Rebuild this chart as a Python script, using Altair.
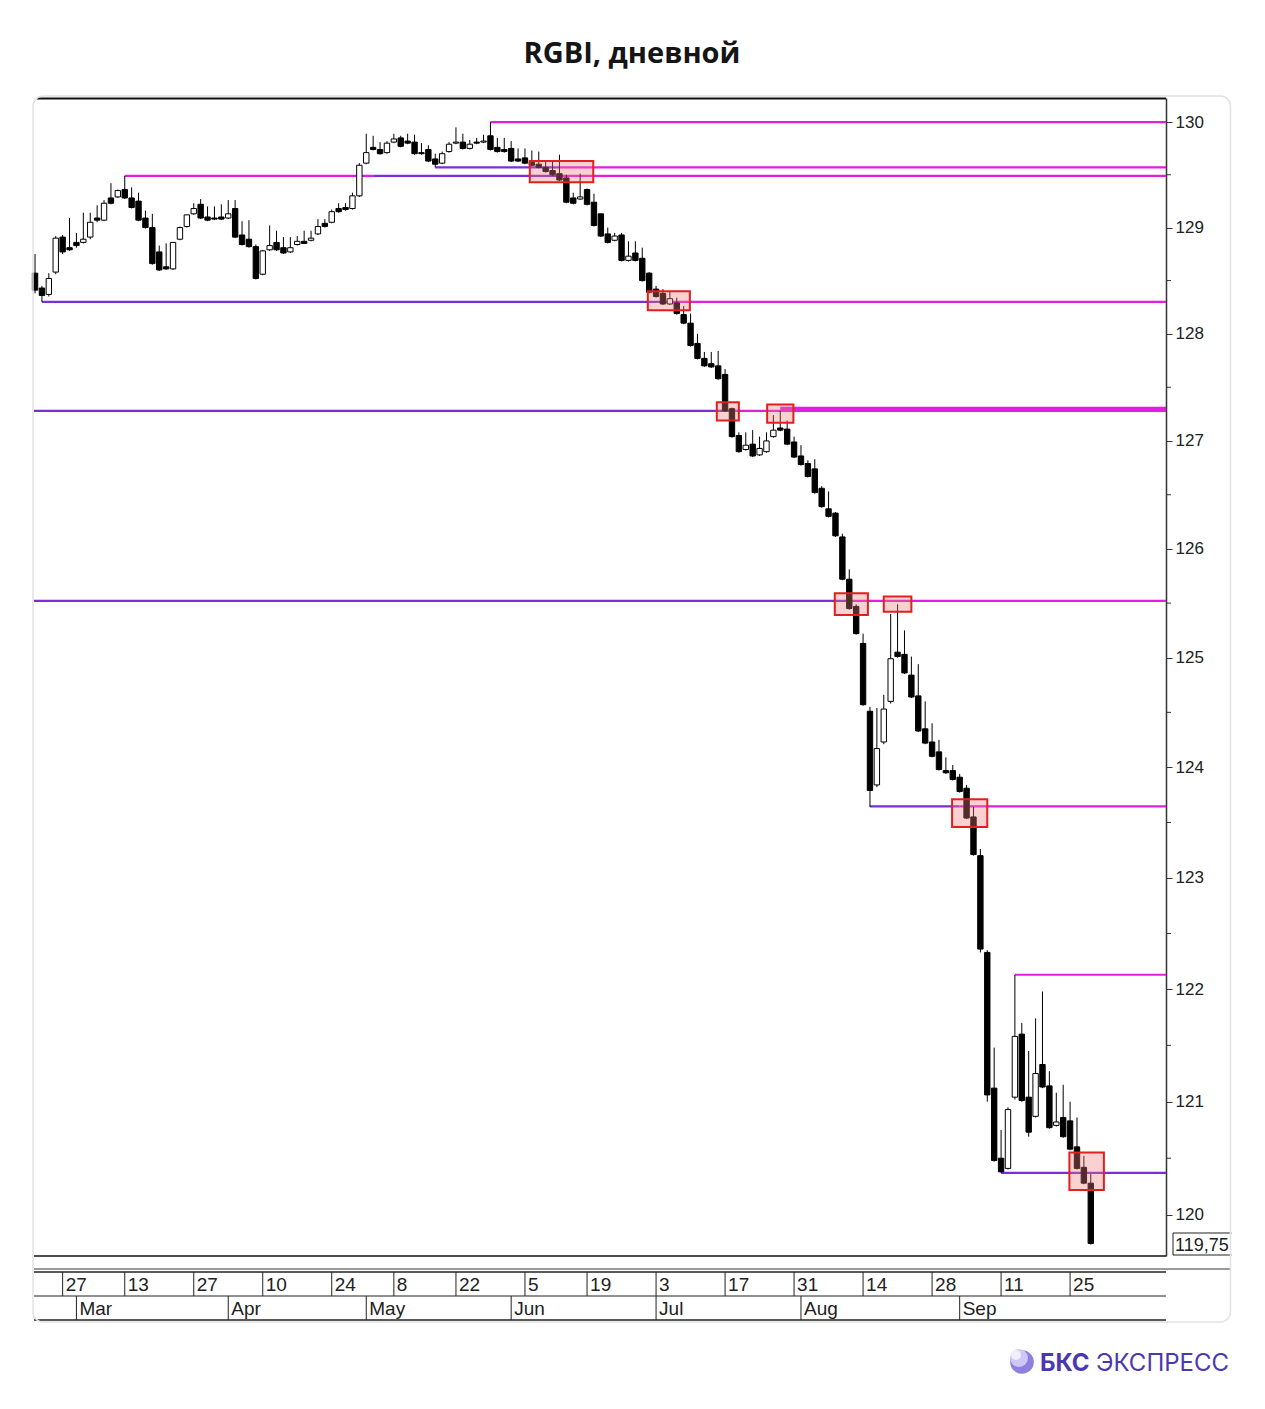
import altair as alt
import pandas as pd

TITLE = "RGBI, дневной"

# ---- trading calendar (MOEX 2023) ----
HOLIDAYS = ["2023-02-23", "2023-03-08", "2023-05-01", "2023-05-09", "2023-06-12"]
dates = pd.bdate_range("2023-02-20", "2023-09-28")
dates = dates[~dates.isin(pd.to_datetime(HOLIDAYS))]

# ---- daily candles ----
opens = [128.57,128.43,128.37,128.58,128.91,128.81,128.86,128.86,128.91,129.09,
 129.07,129.28,129.29,129.36,129.28,129.25,129.09,129.00,128.77,128.63,
 128.61,128.89,129.01,129.13,129.22,129.10,129.09,129.10,129.09,129.18,
 128.93,128.89,128.82,128.56,128.79,128.86,128.81,128.77,128.84,128.87,
 128.88,128.94,129.04,129.05,129.18,129.19,129.18,129.30,129.61,129.76,
 129.74,129.71,129.81,129.85,129.82,129.81,129.71,129.74,129.65,129.61,
 129.72,129.80,129.81,129.75,129.81,129.81,129.87,129.76,129.74,129.75,
 129.65,129.66,129.62,129.60,129.57,129.54,129.51,129.47,129.28,129.27,
 129.36,129.24,129.13,128.94,128.88,128.93,128.69,128.76,128.71,128.57,
 128.42,128.38,128.28,128.29,128.18,128.10,127.91,127.77,127.72,127.70,
 127.62,127.30,127.05,126.92,126.97,126.87,126.90,127.04,127.12,127.11,
 126.99,126.86,126.79,126.74,126.56,126.37,126.33,126.11,125.72,125.47,
 125.13,124.51,123.84,124.23,124.60,125.05,125.03,124.84,124.65,124.35,
 124.23,124.14,123.97,123.97,123.91,123.81,123.55,123.20,122.33,121.12,
 120.50,120.41,121.04,121.60,121.04,120.87,121.33,121.14,120.79,120.86,
 120.83,120.60,120.42,120.28]
closes = [128.41,128.36,128.52,128.90,128.77,128.79,128.83,128.89,129.05,129.07,
 129.23,129.23,129.35,129.28,129.19,129.07,129.00,128.66,128.60,128.61,
 128.86,129.00,129.12,129.18,129.09,129.07,129.08,129.08,129.13,128.91,
 128.84,128.82,128.52,128.78,128.83,128.79,128.76,128.81,128.87,128.85,
 128.90,129.01,129.01,129.15,129.15,129.17,129.30,129.59,129.71,129.74,
 129.70,129.80,129.84,129.77,129.80,129.70,129.70,129.63,129.60,129.70,
 129.79,129.81,129.75,129.79,129.80,129.82,129.74,129.72,129.72,129.63,
 129.63,129.61,129.59,129.57,129.53,129.50,129.45,129.24,129.23,129.29,
 129.22,129.02,128.92,128.86,128.92,128.69,128.73,128.69,128.50,128.39,
 128.35,128.28,128.33,128.19,128.10,127.89,127.77,127.70,127.69,127.58,
 127.28,127.04,126.90,126.96,126.86,126.93,127.00,127.10,127.10,126.97,
 126.85,126.78,126.67,126.52,126.39,126.30,126.12,125.72,125.45,125.22,
 124.57,123.79,124.17,124.53,124.99,125.01,124.86,124.64,124.33,124.22,
 124.10,123.98,123.95,123.89,123.78,123.54,123.21,122.36,121.06,120.48,
 120.38,120.93,121.58,121.01,120.73,121.25,121.13,120.77,120.82,120.69,
 120.58,120.41,120.28,119.75]
highs = [128.75,128.45,128.57,128.92,128.93,129.09,128.95,129.14,129.14,129.21,
 129.26,129.42,129.36,129.49,129.38,129.33,129.16,129.13,128.83,128.85,
 128.86,129.01,129.12,129.23,129.27,129.20,129.20,129.22,129.26,129.26,
 129.06,129.07,128.84,128.79,129.02,128.97,128.91,128.91,128.92,128.97,
 128.97,129.08,129.08,129.17,129.23,129.23,129.33,129.61,129.89,129.87,
 129.81,129.82,129.89,129.87,129.89,129.88,129.80,129.78,129.70,129.72,
 129.81,129.95,129.89,129.83,129.85,129.88,130.00,129.85,129.85,129.82,
 129.75,129.75,129.73,129.72,129.63,129.63,129.69,129.50,129.33,129.51,
 129.37,129.32,129.13,129.00,128.95,128.95,128.87,128.87,128.81,128.58,
 128.45,128.42,128.40,128.34,128.26,128.19,128.00,127.83,127.83,127.84,
 127.67,127.31,127.08,127.08,127.10,127.04,127.08,127.24,127.28,127.19,
 127.04,126.96,126.82,126.83,126.58,126.53,126.34,126.14,125.81,125.49,
 125.22,124.55,124.54,124.66,125.40,125.49,125.25,125.01,124.94,124.60,
 124.40,124.25,124.09,124.02,123.94,123.84,123.64,123.26,122.35,121.48,
 120.75,120.95,122.13,121.70,121.45,121.74,121.98,121.27,121.08,121.15,
 121.00,120.86,120.52,120.36]
lows = [128.38,128.30,128.35,128.56,128.75,128.78,128.81,128.85,128.89,129.05,
 129.06,129.22,129.28,129.27,129.18,129.06,128.99,128.65,128.59,128.60,
 128.60,128.88,129.00,129.12,129.08,129.06,129.07,129.07,129.08,128.90,
 128.83,128.81,128.51,128.55,128.78,128.78,128.75,128.76,128.83,128.85,
 128.87,128.93,129.00,129.04,129.14,129.16,129.17,129.29,129.60,129.73,
 129.69,129.70,129.80,129.76,129.79,129.69,129.69,129.62,129.57,129.60,
 129.71,129.79,129.74,129.74,129.79,129.80,129.73,129.71,129.71,129.62,
 129.62,129.60,129.58,129.56,129.52,129.49,129.44,129.23,129.22,129.26,
 129.21,129.01,128.91,128.85,128.87,128.68,128.68,128.68,128.49,128.38,
 128.34,128.27,128.27,128.18,128.09,127.88,127.76,127.69,127.68,127.57,
 127.27,127.03,126.89,126.91,126.85,126.86,126.89,127.03,127.09,126.96,
 126.84,126.77,126.66,126.51,126.38,126.29,126.11,125.71,125.44,125.21,
 124.56,123.64,123.82,124.21,124.58,125.00,124.85,124.63,124.32,124.21,
 124.09,123.97,123.94,123.88,123.77,123.53,123.20,122.33,121.00,120.47,
 120.37,120.40,121.02,121.00,120.69,120.86,121.12,120.76,120.78,120.68,
 120.57,120.40,120.27,119.74]

# ---- support / resistance segments (x in trading-day index, None = to the right edge) ----
line_price = [130.00, 129.49, 129.49, 129.49, 129.57, 129.57, 128.30, 128.30,
              127.28, 127.28, 127.30, 125.52, 125.52, 123.645, 123.645, 122.13, 120.37]
line_from = [66, 13, 49, 76, 58, 76, 1, 91, None, 101.5, 108, None, 118, 121, 134, 142, 140]
line_to = [None, 49, 76, None, 76, None, 91, None, 101.5, None, None, 118, None, 134, None, None, None]
line_role = ["res", "res", "sup", "res", "sup", "res", "sup", "res",
             "sup", "res", "res_bold", "sup", "res", "sup", "res", "res", "sup"]

# ---- highlighted zones ----
box_from = [71.7, 88.8, 98.8, 106.1, 115.9, 123.0, 132.9, 149.9]
box_to = [80.9, 94.9, 102.0, 109.9, 120.7, 127.0, 138.0, 154.9]
box_lo = [129.43, 128.22, 127.19, 127.17, 125.39, 125.42, 123.46, 120.22]
box_hi = [129.63, 128.40, 127.36, 127.34, 125.59, 125.56, 123.71, 120.55]

Y_TICKS = list(range(120, 131))
Y_MINOR = [v + 0.5 for v in range(120, 130)]
Y_DOMAIN = [119.64, 130.23]
X_DOMAIN = [-0.15, 163.9]

MAGENTA = "#E01FE0"
PURPLE = "#7A2ED6"
W, H = 1132, 1158
NARROW = "Liberation Sans Narrow, Arial Narrow, Liberation Sans, Arial, sans-serif"
SANS = "Liberation Sans, Arial, sans-serif"

# ---- frames ----
n = len(opens)
cdf = pd.DataFrame({"i": list(range(n)), "o": opens, "h": highs, "l": lows, "c": closes})
cdf["lo"] = cdf[["o", "c"]].min(axis=1)
cdf["hi"] = cdf[["o", "c"]].max(axis=1)
cdf["dir"] = ["up" if c >= o else "down" for o, c in zip(opens, closes)]
cdf["x1"] = cdf["i"] - 0.39
cdf["x2"] = cdf["i"] + 0.39

ldf = pd.DataFrame({
    "price": line_price,
    "x1": [X_DOMAIN[0] if v is None else v for v in line_from],
    "x2": [X_DOMAIN[1] if v is None else v for v in line_to],
    "role": line_role,
})
bdf = pd.DataFrame({"x1": box_from, "x2": box_to, "lo": box_lo, "hi": box_hi})

idx = {d: k for k, d in enumerate(dates)}
day_dates = [d for d in pd.date_range("2023-02-27", dates[-1], freq="14D") if d in idx]
ddf = pd.DataFrame({"i": [idx[d] for d in day_dates], "label": [str(d.day) for d in day_dates]})
firsts = pd.Series(dates).groupby([dates.year, dates.month]).min()
firsts = [d for d in firsts if d.month >= 3]
mdf = pd.DataFrame({"i": [idx[d] for d in firsts], "label": [d.strftime("%b") for d in firsts]})
minor_df = pd.DataFrame({"v": Y_MINOR})
one = pd.DataFrame({"k": [0]})
last_label = f"{closes[-1]:.2f}".replace(".", ",")

xs = alt.Scale(domain=X_DOMAIN, nice=False, zero=False)
ys = alt.Scale(type="log", domain=Y_DOMAIN, nice=False, zero=False)
yaxis = alt.Axis(orient="right", values=Y_TICKS, format="d", title=None, grid=False,
                 tickSize=6, tickColor="#333", domainColor="#333", domainWidth=1.5,
                 labelFont=SANS, labelFontSize=17, labelColor="#222", labelPadding=3)


def X(f):
    return alt.X(f, scale=xs, axis=None)


def Y(f):
    return alt.Y(f, scale=ys, axis=yaxis)


layers = []
# support / resistance lines
for role, col, sw in [("sup", PURPLE, 2.2), ("res", MAGENTA, 2.2), ("res_bold", MAGENTA, 4)]:
    layers.append(
        alt.Chart(ldf).transform_filter(alt.datum.role == role)
        .mark_rule(color=col, strokeWidth=sw)
        .encode(x=X("x1:Q"), x2="x2:Q", y=Y("price:Q"))
    )
# wicks
layers.append(alt.Chart(cdf).mark_rule(color="black", strokeWidth=1)
              .encode(x=X("i:Q"), y=Y("l:Q"), y2="h:Q"))
# bodies
layers.append(alt.Chart(cdf).transform_filter(alt.datum.dir == "down")
              .mark_rect(fill="black", stroke="black", strokeWidth=1)
              .encode(x=X("x1:Q"), x2="x2:Q", y=Y("lo:Q"), y2="hi:Q"))
layers.append(alt.Chart(cdf).transform_filter(alt.datum.dir == "up")
              .mark_rect(fill="white", stroke="black", strokeWidth=1)
              .encode(x=X("x1:Q"), x2="x2:Q", y=Y("lo:Q"), y2="hi:Q"))
# highlighted zones
layers.append(alt.Chart(bdf).mark_rect(fill="#F07C7C", fillOpacity=0.35, stroke="#E21F1F", strokeWidth=2)
              .encode(x=X("x1:Q"), x2="x2:Q", y=Y("lo:Q"), y2="hi:Q"))
# minor ticks on price axis
layers.append(alt.Chart(minor_df).mark_rule(color="#333", strokeWidth=1)
              .encode(x=alt.value(W), x2=alt.value(W + 5), y=Y("v:Q")))

# frame lines
def hline(y, x1, x2, color, sw):
    return alt.Chart(one).mark_rule(color=color, strokeWidth=sw).encode(
        x=alt.value(x1), x2=alt.value(x2), y=alt.value(y))

layers += [
    hline(0.5, 3, W, "#111", 2),
    hline(H, 0, W, "#111", 1.5),
    hline(1171, 0, 1196, "#9a9a9a", 2),
    hline(1174, 0, W, "#222", 1.5),
    hline(1198, 0, W, "#222", 1),
    hline(1222, 0, W, "#222", 1.5),
]
# date strip
layers.append(alt.Chart(ddf).mark_rule(color="#222", strokeWidth=1)
              .encode(x=X("i:Q"), y=alt.value(1174), y2=alt.value(1198)))
layers.append(alt.Chart(mdf).mark_rule(color="#222", strokeWidth=1)
              .encode(x=X("i:Q"), y=alt.value(1198), y2=alt.value(1222)))
layers.append(alt.Chart(ddf).mark_text(align="left", baseline="alphabetic", dx=3, font=NARROW,
                                       fontSize=19, color="#222")
              .encode(x=X("i:Q"), y=alt.value(1193), text="label:N"))
layers.append(alt.Chart(mdf).mark_text(align="left", baseline="alphabetic", dx=3, font=NARROW,
                                       fontSize=19, color="#222")
              .encode(x=X("i:Q"), y=alt.value(1217), text="label:N"))

# last price tag
layers.append(alt.Chart(one).mark_rect(fill="white", stroke="#222", strokeWidth=1)
              .encode(x=alt.value(W + 7), x2=alt.value(W + 70), y=alt.value(1135), y2=alt.value(1157)))
layers.append(alt.Chart(pd.DataFrame({"t": [last_label]}))
              .mark_text(align="left", baseline="alphabetic", font=SANS, fontSize=18, color="#222")
              .encode(x=alt.value(W + 9), y=alt.value(1153), text="t:N"))
# clip beyond panel and panel border
layers.append(alt.Chart(one).mark_rect(fill="white", strokeWidth=0)
              .encode(x=alt.value(1197.5), x2=alt.value(1222), y=alt.value(1125), y2=alt.value(1165)))
layers.append(alt.Chart(one).mark_rect(fill="white", fillOpacity=0, stroke="#e2e2e2", strokeWidth=1.5,
                                       cornerRadius=10)
              .encode(x=alt.value(-1), x2=alt.value(1196.5), y=alt.value(-2), y2=alt.value(1224)))

# title
layers.append(alt.Chart(pd.DataFrame({"t": [TITLE]}))
              .mark_text(align="center", baseline="alphabetic", font="Open Sans", fontWeight="bold",
                         fontSize=29, color="#151515")
              .encode(x=alt.value(598), y=alt.value(-35), text="t:N"))

# logo
layers.append(alt.Chart(one).mark_circle(size=560, color="#8E80DF", opacity=1)
              .encode(x=alt.value(988), y=alt.value(1264)))
layers.append(alt.Chart(one).mark_circle(size=320, color="#CFC8F5", opacity=1)
              .encode(x=alt.value(985), y=alt.value(1260)))
layers.append(alt.Chart(one).mark_circle(size=100, color="#F1EEFD", opacity=1)
              .encode(x=alt.value(982), y=alt.value(1257)))
layers.append(alt.Chart(pd.DataFrame({"t": ["БКС"]}))
              .mark_text(align="left", baseline="alphabetic", font="Inter", fontWeight="bold",
                         fontSize=24, color="#4A38B0")
              .encode(x=alt.value(1006), y=alt.value(1273), text="t:N"))
layers.append(alt.Chart(pd.DataFrame({"t": ["ЭКСПРЕСС"]}))
              .mark_text(align="left", baseline="alphabetic", font="Inter", fontWeight="normal",
                         fontSize=24, color="#4A38B0")
              .encode(x=alt.value(1062), y=alt.value(1273), text="t:N"))

chart = alt.layer(*layers).properties(
    width=W, height=H,
    padding={"left": 26, "top": 90, "right": 91, "bottom": 130},
    autosize=alt.AutoSizeParams(type="none"),
    background="white",
).configure_view(stroke=None)

chart.save("out.html", embed_options={"renderer": "svg", "actions": False})
